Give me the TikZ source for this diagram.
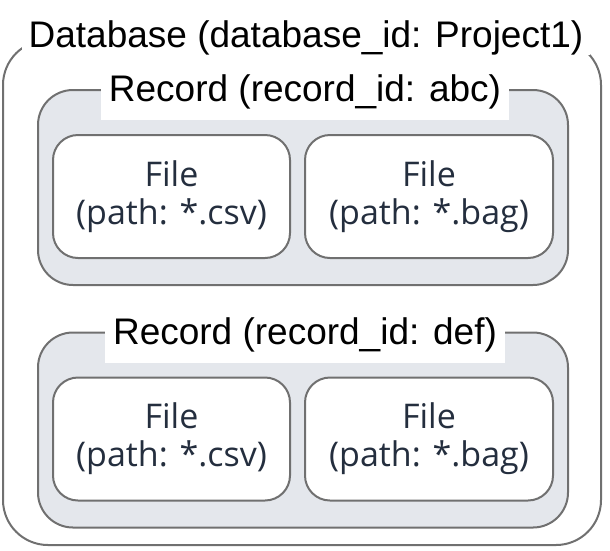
\documentclass[tikz,border=0pt]{standalone}
\usepackage{fontspec}
\setmainfont{Liberation Sans}
\newfontfamily\filefont{Open Sans}
\usetikzlibrary{positioning}
\definecolor{boxgray}{RGB}{112,112,112}
\definecolor{recordfill}{RGB}{228,231,236}
\definecolor{filetext}{RGB}{36,46,62}
\tikzset{
    dbbox/.style={rectangle, rounded corners=45pt, draw=boxgray, line width=2pt, minimum width=598pt, minimum height=505pt},
    recbox/.style={rectangle, rounded corners=35pt, draw=boxgray, fill=recordfill, line width=2pt, minimum width=530pt, minimum height=195pt},
    filebox/.style={rectangle, rounded corners=25pt, draw=boxgray, fill=white, line width=2pt, minimum width=237pt, minimum height=123pt, align=center, text=filetext, font=\filefont\fontsize{34}{38}\selectfont},
    dblabel/.style={fill=white, anchor=base, inner xsep=7pt, inner ysep=0pt, font=\fontsize{37}{40}\selectfont},
    reclabel/.style={fill=white, anchor=base, inner xsep=8pt, inner ysep=11pt, font=\fontsize{37}{40}\selectfont},
}
\begin{document}
\begin{tikzpicture}[x=1pt, y=-1pt]
    \useasboundingbox (0,0) rectangle (610,550);
    % Database
    \node[dbbox] (db) at (302, 292.5) {};
    % Records
    \foreach \r/\y in {abc/187.5, def/430} {
        \node[recbox] (rec\r) at (303, \y) {};
        \node[filebox] (csv\r) at (171.5, \y+9) {File\\(path: *.csv)};
        \node[filebox, minimum width=248pt] (bag\r) at (429, \y+9) {File\\(path: *.bag)};
    }
    % Labels on top
    \node[dblabel] (dbname) at (306, 47) {Database (database\_id: Project1)};
    \node[reclabel] (recnameabc) at (305, 101) {Record (record\_id: abc)};
    \node[reclabel] (recnamedef) at (305, 344) {Record (record\_id: def)};
\end{tikzpicture}
\end{document}
